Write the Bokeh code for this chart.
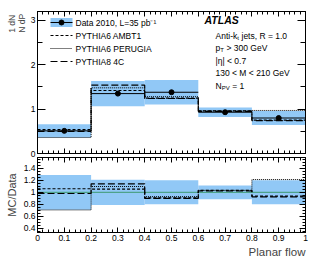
from bokeh.plotting import figure
from bokeh.layouts import column
from bokeh.models import Range1d, LinearAxis, FixedTicker, Label, Title
from bokeh.embed import file_html
from bokeh.resources import INLINE

# ---------------- data ----------------
edges = [0.0, 0.2, 0.4, 0.6, 0.8, 1.0]
centers = [0.1, 0.3, 0.5, 0.7, 0.9]
data_vals = [0.51, 1.35, 1.38, 0.93, 0.80]
data_rel_unc = [0.29, 0.21, 0.20, 0.115, 0.20]
ambt1_vals = [0.54, 1.42, 1.25, 0.96, 0.75]
perugia_vals = [0.36, 1.48, 1.28, 0.96, 0.97]
py8_vals = [0.50, 1.54, 1.24, 0.95, 0.74]

x_ticks = [0, 0.1, 0.2, 0.3, 0.4, 0.5, 0.6, 0.7, 0.8, 0.9, 1.0]
x_minor = [round(i * 0.02, 2) for i in range(51)]
top_y_ticks = [0, 1, 2, 3]
top_y_minor = [0.5, 1.5, 2.5]
ratio_y_ticks = [0.4, 0.6, 0.8, 1.0, 1.2, 1.4]
ratio_y_minor = [round(0.35 + 0.05 * i, 2) for i in range(25)]

legend_labels = ["Data 2010, L=35 pb\u207b\u00b9", "PYTHIA6 AMBT1", "PYTHIA6 PERUGIA", "PYTHIA8 4C"]

# ---------------- layout constants (page px) ----------------
FONT = "Liberation Sans"
FX0, FW = 37, 268
TOP_Y0, TOP_FH = 11, 142
BOT_Y0, BOT_FH = 157, 75
TOP_YR = (0.0, 3.2)
BOT_YR = (0.33, 1.58)
BAND = "#91c8f6"

def X(px):
    return (px - FX0) / FW

def YT(py):
    return TOP_YR[0] + (TOP_Y0 + TOP_FH - py) / TOP_FH * (TOP_YR[1] - TOP_YR[0])

def style_axis(ax, major, minor, maj_len, min_len, labels=True, size="8.5px"):
    ax.ticker = FixedTicker(ticks=major, minor_ticks=minor)
    ax.major_tick_in = maj_len
    ax.major_tick_out = 0
    ax.minor_tick_in = min_len
    ax.minor_tick_out = 0
    ax.axis_line_color = "black"
    ax.major_tick_line_color = "black"
    ax.minor_tick_line_color = "black"
    ax.major_label_text_font = FONT
    ax.major_label_standoff = 2
    if labels:
        ax.major_label_text_font_size = size
        ax.major_label_text_color = "black"
    else:
        ax.major_label_text_font_size = "1px"
        ax.major_label_text_color = None
        ax.major_label_standoff = 0

def make_fig(fh, yr, top_border, bottom_border):
    p = figure(frame_width=FW, frame_height=fh, output_backend="svg", toolbar_location=None,
               x_range=Range1d(0, 1), y_range=Range1d(*yr),
               min_border_left=FX0, min_border_right=315 - FX0 - FW,
               min_border_top=top_border, min_border_bottom=bottom_border)
    p.grid.visible = False
    p.outline_line_color = "black"
    p.outline_line_width = 1
    p.background_fill_color = "white"
    p.border_fill_color = "white"
    return p

def lab(p, x, y, text, size="8.5px", align="left", baseline="middle", style="normal"):
    p.add_layout(Label(x=x, y=y, text=text, text_font=FONT, text_font_size=size,
                       text_align=align, text_baseline=baseline,
                       text_font_style=style, text_color="black"))

def step_vals(v):
    return list(v) + [v[-1]]

# ---------------- top panel ----------------
top = make_fig(TOP_FH, TOP_YR, TOP_Y0, 4)
tx_below = top.xaxis[0]
ty_left = top.yaxis[0]
style_axis(tx_below, x_ticks, x_minor, 5, 3, labels=False)
style_axis(ty_left, top_y_ticks, top_y_minor, 8, 5)
ax_t = LinearAxis(); style_axis(ax_t, x_ticks, x_minor, 5, 3, labels=False)
ax_r = LinearAxis(); style_axis(ax_r, top_y_ticks, top_y_minor, 8, 5, labels=False)
top.add_layout(ax_t, "above")
top.add_layout(ax_r, "right")

top.add_layout(Title(text="1  dN\nN  dP", align="right", text_font=FONT,
                     text_font_size="8.5px", text_font_style="normal", standoff=2), "left")

lo = [v * (1 - e) for v, e in zip(data_vals, data_rel_unc)]
hi = [v * (1 + e) for v, e in zip(data_vals, data_rel_unc)]
top.quad(left=edges[:-1], right=edges[1:], bottom=lo, top=hi, fill_color=BAND, line_color=None)
top.segment(x0=edges[:-1], x1=edges[1:], y0=data_vals, y1=data_vals, line_color="black", line_width=1)
top.step(x=edges, y=step_vals(ambt1_vals), mode="after", line_color="black", line_width=1.2, line_dash="3 2")
top.step(x=edges, y=step_vals(perugia_vals), mode="after", line_color="black", line_width=1.0, line_dash="1 1")
top.step(x=edges, y=step_vals(py8_vals), mode="after", line_color="black", line_width=1.2, line_dash="7 3")
top.scatter(x=centers, y=data_vals, size=5, marker="circle", color="black")

# legend (drawn by hand)
rows = [22, 35, 48, 61]
gx0, gx1, tx = 50, 72, 75
top.quad(left=[X(gx0)], right=[X(gx1)], bottom=[YT(rows[0] + 4.5)], top=[YT(rows[0] - 4.5)],
         fill_color=BAND, line_color=None)
top.line(x=[X(gx0), X(gx1)], y=[YT(rows[0])] * 2, line_color="black", line_width=1)
top.scatter(x=[X((gx0 + gx1) / 2)], y=[YT(rows[0])], size=5, color="black")
for r, dash, w in zip(rows[1:], ["3 2", "1 1", "7 3"], [1.2, 1.0, 1.2]):
    top.line(x=[X(gx0), X(gx1)], y=[YT(r)] * 2, line_color="black", line_width=w, line_dash=dash)
for r, t in zip(rows, legend_labels):
    lab(top, X(tx), YT(r), t, size="8.5px")

# ATLAS text block
lab(top, X(204), YT(19), "ATLAS", size="10.5px", style="bold italic")
TX = 215
SP = 2.4  # width of a space at 8.5px
lab(top, X(TX), YT(35), "Anti-k", size="8.5px")
lab(top, X(TX + 21.7), YT(37.5), "t", size="6px")
lab(top, X(TX + 23.6 + SP), YT(35), "jets, R = 1.0", size="8.5px")
lab(top, X(TX), YT(47), "p", size="8.5px")
lab(top, X(TX + 4.8), YT(49.5), "T", size="6px")
lab(top, X(TX + 8.6 + SP), YT(47), "> 300 GeV", size="8.5px")
lab(top, X(TX), YT(60), "|\u03b7| < 0.7", size="8.5px")
lab(top, X(TX), YT(72), "130 < M < 210 GeV", size="8.5px")
lab(top, X(TX), YT(85), "N", size="8.5px")
lab(top, X(TX + 6.2), YT(87.5), "PV", size="6px")
lab(top, X(TX + 14.3 + SP), YT(85), "= 1", size="8.5px")

# ---------------- bottom panel ----------------
bot = make_fig(BOT_FH, BOT_YR, 0, 26)
bx_below = bot.xaxis[0]
by_left = bot.yaxis[0]
style_axis(bx_below, x_ticks, x_minor, 5, 3)
style_axis(by_left, ratio_y_ticks, ratio_y_minor, 6, 3)
bx_t = LinearAxis(); style_axis(bx_t, x_ticks, x_minor, 5, 3, labels=False)
by_r = LinearAxis(); style_axis(by_r, ratio_y_ticks, ratio_y_minor, 6, 3, labels=False)
bot.add_layout(bx_t, "above")
bot.add_layout(by_r, "right")

by_left.axis_label = "MC/Data"
by_left.axis_label_text_font = FONT
by_left.axis_label_text_font_size = "11px"
by_left.axis_label_text_font_style = "normal"
by_left.axis_label_standoff = 3

bot.add_layout(Title(text="Planar flow", align="right", text_font=FONT,
                     text_font_size="11.5px", text_font_style="normal", standoff=0), "below")

rlo = [1 - e for e in data_rel_unc]
rhi = [1 + e for e in data_rel_unc]
bot.quad(left=edges[:-1], right=edges[1:], bottom=rlo, top=rhi, fill_color=BAND, line_color=None)
bot.line(x=[0, 1], y=[1, 1], line_color="#3d9970", line_width=1)
r_ambt1 = [m / d for m, d in zip(ambt1_vals, data_vals)]
r_perugia = [m / d for m, d in zip(perugia_vals, data_vals)]
r_py8 = [m / d for m, d in zip(py8_vals, data_vals)]
bot.step(x=edges, y=step_vals(r_ambt1), mode="after", line_color="black", line_width=1.2, line_dash="3 2")
bot.step(x=edges, y=step_vals(r_perugia), mode="after", line_color="black", line_width=1.0, line_dash="1 1")
bot.step(x=edges, y=step_vals(r_py8), mode="after", line_color="black", line_width=1.2, line_dash="7 3")

layout = column(top, bot, spacing=0)
open("out.html", "w").write(file_html(layout, INLINE))
